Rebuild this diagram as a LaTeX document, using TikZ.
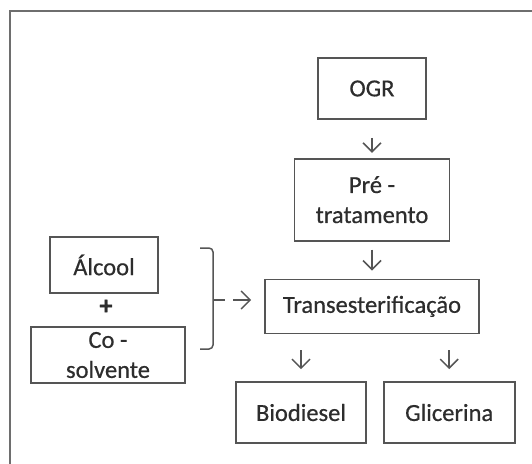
\documentclass[tikz,border=0pt]{standalone}
\usepackage{fontspec}
\setmainfont{Carlito}[FakeBold=0.6]
\usepackage{xcolor}
\usetikzlibrary{arrows.meta, positioning}
\definecolor{lineGray}{RGB}{85,85,85}
\definecolor{textGray}{RGB}{45,45,45}

\begin{document}
\begin{tikzpicture}[
    x=1pt, y=-1pt,
    font=\fontsize{24.5}{30}\selectfont\addfontfeature{FakeBold=0.6},
    box/.style={draw=lineGray, line width=1.7pt, text=textGray, inner sep=2pt, align=center},
    arrow/.style={-{Straight Barb[length=9pt, width=18pt]}, line width=1.5pt, draw=lineGray}
  ]
    \useasboundingbox (0,0) rectangle (532,463);
    \draw[lineGray!85, line width=2.2pt] (10,470) -- (10,11) -- (540,11);

    \node[box, minimum width=108pt, minimum height=61pt] (ogr) at (372,88.5) {OGR};
    \node[box, minimum width=155pt, minimum height=82pt, below=38pt of ogr] (pre) {Pré -\\tratamento};
    \node[box, minimum width=214pt, minimum height=54pt, below=37pt of pre] (trans) {Transesterificação};
    \node[box, minimum width=130pt, minimum height=61pt] (bio) at (301,412.5) {Biodiesel};
    \node[box, minimum width=131pt, minimum height=61pt, right=16pt of bio] (gli) {Glicerina};

    \node[box, minimum width=108pt, minimum height=56pt] (alc) at (104,265) {Álcool};
    \node[text=textGray, font=\fontsize{26}{30}\selectfont\bfseries] (plus) at (106,307) {+};
    \node[box, minimum width=154pt, minimum height=56pt] (co) at (108,355) {Co -\\solvente};

    % chave que junta os reagentes
    \draw[lineGray, line width=1.5pt, rounded corners=4pt] (200,248) -- (213,248) -- (213,349) -- (200,349);
    \coordinate (tip) at (225,300);
    \draw[lineGray, line width=1.5pt] (213,300) -- (tip);

    \draw[arrow, shorten <=18pt, shorten >=5pt] (ogr) -- (pre);
    \draw[arrow, shorten <=8pt, shorten >=8pt] (pre) -- (trans);
    \draw[arrow, shorten <=8pt, shorten >=13pt] (tip) -- (tip -| trans.west);
    \draw[arrow, shorten <=16pt, shorten >=12pt] (trans.south -| bio.north) -- (bio.north);
    \draw[arrow, shorten <=16pt, shorten >=12pt] (trans.south -| gli.north) -- (gli.north);
  \end{tikzpicture}
\end{document}
